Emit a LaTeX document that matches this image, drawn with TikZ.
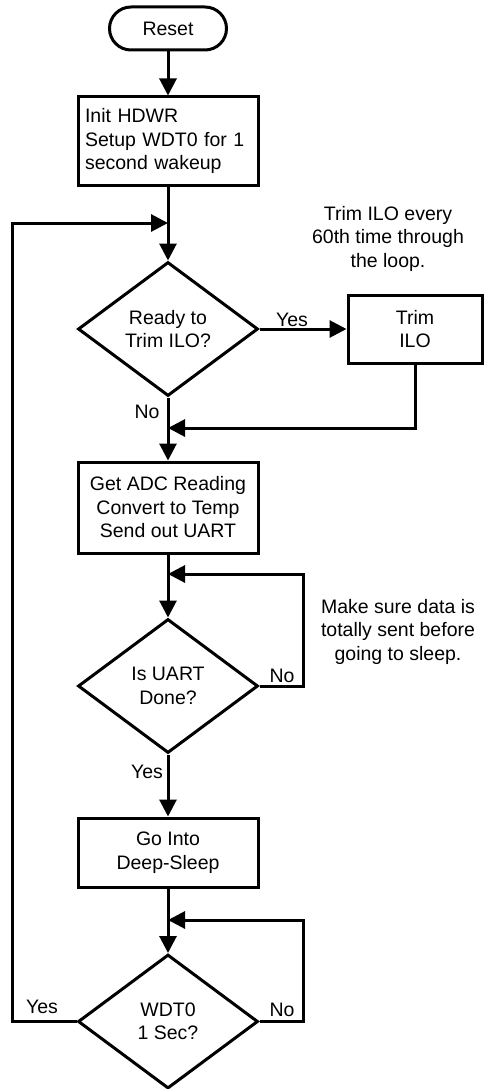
\documentclass[tikz,border=0pt]{standalone}
\usepackage{fontspec}
\setmainfont{Liberation Sans}
\usetikzlibrary{shapes.geometric,arrows.meta,calc}
\begin{document}
\begin{tikzpicture}[x=1pt,y=-1pt,
  every node/.style={font=\fontsize{19.5pt}{23.5pt}\selectfont},
  line/.style={line width=3pt},
  arr/.style={line width=3pt,-{Triangle[length=17pt,width=17pt]}},
  procbox/.style={draw,line width=3pt,rectangle,align=center,inner sep=0pt,minimum width=180pt},
  decision/.style={draw,line width=3pt,diamond,align=center,inner sep=0pt,minimum width=180pt,minimum height=134pt},
  term/.style={draw,line width=3pt,rectangle,rounded corners=21.5pt,minimum width=117pt,minimum height=43pt,inner sep=0pt},
  lbl/.style={inner sep=0pt,anchor=base},
  note/.style={inner sep=0pt,align=center,anchor=north}
]
\useasboundingbox (0,0) rectangle (483,1089);

\node[term] (reset) at (168,28.5) {Reset};
\node[procbox,minimum height=88pt,text width=166pt,align=left,inner xsep=7pt] (init) at (168,141) {Init HDWR\\Setup WDT0 for 1\\second wakeup};
\coordinate (j1) at (168,223);
\node[decision] (d1) at (168,329) {Ready to\\Trim ILO?};
\node[procbox,minimum width=134pt,minimum height=68pt] (trim) at (415,329) {Trim\\ILO};
\coordinate (j2) at (168,428);
\node[procbox,minimum height=91pt] (adc) at (168,507.5) {Get ADC Reading\\Convert to Temp\\Send out UART};
\coordinate (j3) at (168,574);
\node[decision] (d2) at (168,686) {Is UART\\Done?};
\node[procbox,minimum height=69pt] (sleep) at (168,852.5) {Go Into\\Deep-Sleep};
\coordinate (j4) at (168,920);
\node[decision] (d3) at (168,1021.5) {WDT0\\1 Sec?};
\coordinate (lp) at (12,223);
\coordinate (r2) at (303,574);
\coordinate (r3) at (303,920);

% notes
\node[note] (n1) at (388,206) {Trim ILO every\\60th time through\\the loop.};
\node[note] (n2) at (398,599) {Make sure data is\\totally sent before\\going to sleep.};

% connectors
\draw[arr] (reset.south) -- (init.north);
\draw[line] (init.south) -- (j1);
\draw[arr] (j1) -- (d1.north);
\draw[arr] (d1.east) -- (trim.west);
\draw[arr] (trim.south) |- (j2);
\draw[line] (d1.south) -- (j2);
\draw[arr] (j2) -- (adc.north);
\draw[line] (adc.south) -- (j3);
\draw[arr] (j3) -- (d2.north);
\draw[arr] (d2.east) -| (r2) -- (j3);
\draw[arr] (d2.south) -- (sleep.north);
\draw[line] (sleep.south) -- (j4);
\draw[arr] (j4) -- (d3.north);
\draw[arr] (d3.east) -| (r3) -- (j4);
\draw[arr] (d3.west) -| (lp) -- (j1);

% labels
\node[lbl] (y1) at (292,326) {Yes};
\node[lbl] (no1) at (147,418) {No};
\node[lbl] (no2) at (282,682) {No};
\node[lbl] (y2) at (147,778) {Yes};
\node[lbl] (y3) at (42,1013) {Yes};
\node[lbl] (no3) at (282,1016) {No};
\end{tikzpicture}
\end{document}
